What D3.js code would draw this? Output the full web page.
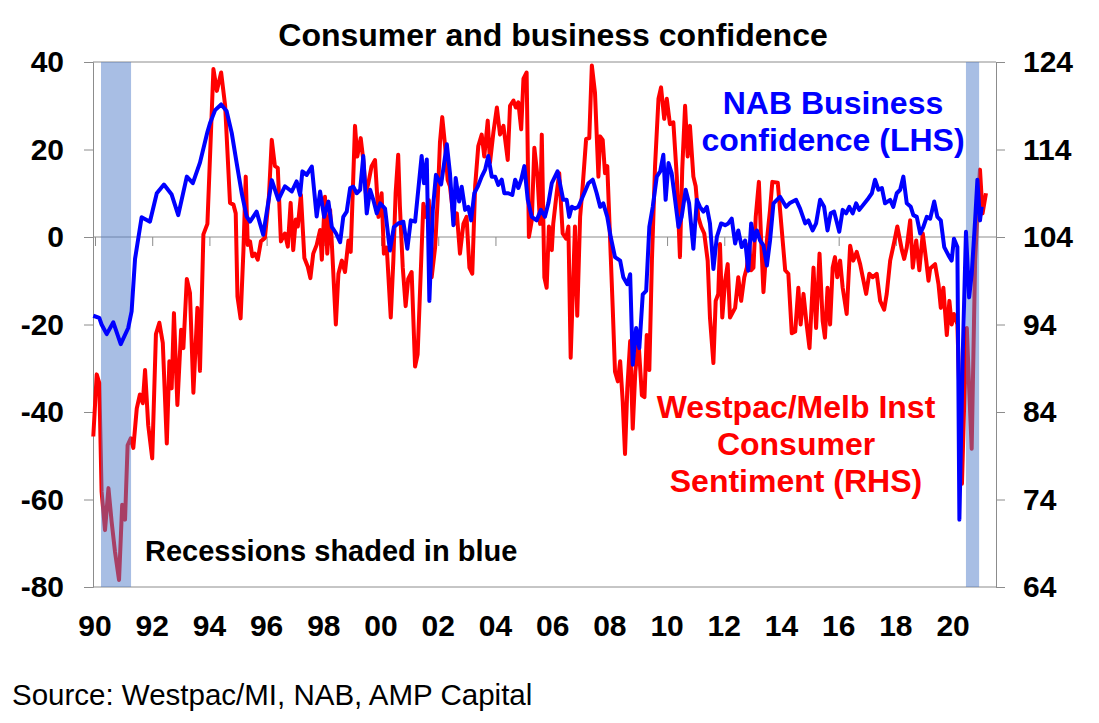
<!DOCTYPE html>
<html lang="en">
<head>
    <meta charset="UTF-8">
    <title>Consumer and business confidence</title>
    <script src="https://cdnjs.cloudflare.com/ajax/libs/d3/7.8.5/d3.min.js"></script>
    <style>
        body { margin: 0; background: #fff; }
        svg { display: block; font-family: "Liberation Sans", Arial, sans-serif; }
        .axis-label { font-size: 30px; font-weight: bold; fill: #000; }
        .note { font-weight: bold; }
    </style>
</head>
<body>
    <div id="chart"></div>

    <script>
        // NAB business confidence (LHS), [decimal year, net balance]
        const nabConfidence = [
            [1989.94,-18],[1990.15,-18.5],[1990.23,-20],[1990.41,-22.2],[1990.64,-19.5],[1990.90,-24.5],
            [1991.16,-20.8],[1991.28,-17],[1991.40,-5],[1991.63,4.5],[1991.92,3.5],[1992.16,10],[1992.41,12],
            [1992.68,9.7],[1992.91,5],[1993.21,13.8],[1993.42,12.3],[1993.67,17],[1993.93,24],[1994.02,26],
            [1994.20,29],[1994.41,30.3],[1994.60,28.8],[1994.78,23.8],[1994.95,17],[1995.13,10],[1995.30,4.7],
            [1995.42,3.5],[1995.65,5.8],[1995.88,0.5],[1996.18,13],[1996.41,8.5],[1996.64,11.6],[1996.88,10.4],
            [1997.05,12.7],[1997.17,9.6],[1997.25,15],[1997.40,14.2],[1997.58,16.1],[1997.75,4.7],[1997.87,10.4],
            [1998.01,4.6],[1998.16,8.1],[1998.28,2.3],[1998.43,0.8],[1998.57,-1.2],[1998.68,4.6],[1998.80,5.8],
            [1998.92,11.2],[1999.03,11.5],[1999.15,10],[1999.27,10.8],[1999.38,18.5],[1999.50,5.4],[1999.62,10.8],
            [1999.73,8.5],[1999.85,5.4],[1999.97,7.7],[2000.14,6.5],[2000.31,-3.1],[2000.45,2.3],[2000.60,3.1],
            [2000.78,3.5],[2000.92,-2.7],[2001.04,3.8],[2001.19,3.5],[2001.42,18.5],[2001.50,12.3],[2001.60,17.7],
            [2001.69,-14.6],[2001.81,6.2],[2001.92,14.2],[2002.10,12],[2002.30,21.2],[2002.41,14.6],[2002.53,2.7],
            [2002.61,13.5],[2002.73,8.1],[2002.82,11.5],[2002.94,6.2],[2003.05,6.9],[2003.15,3.8],[2003.26,10],
            [2003.38,11.5],[2003.52,13.8],[2003.64,15.4],[2003.75,18.5],[2003.87,13.8],[2003.99,13.8],[2004.10,11.9],
            [2004.22,13.1],[2004.31,10],[2004.45,10],[2004.59,9.6],[2004.69,13.1],[2004.80,11.2],[2004.90,13.1],
            [2005.01,16.2],[2005.13,8.5],[2005.27,4.6],[2005.44,3.8],[2005.59,6.2],[2005.73,4.6],[2005.85,7.7],
            [2005.97,12.3],[2006.17,15],[2006.37,8.5],[2006.49,8.5],[2006.58,4.6],[2006.67,6.9],[2006.78,6.5],
            [2006.90,6.9],[2007.13,10.4],[2007.25,12.3],[2007.40,13.1],[2007.54,10],[2007.66,6.9],[2007.77,7.7],
            [2007.91,4.6],[2008.03,0],[2008.18,-4.6],[2008.36,-5.4],[2008.47,-9.2],[2008.61,-10.8],[2008.71,-8.5],
            [2008.80,-29.2],[2008.92,-20.8],[2009.03,-25.4],[2009.15,-13.1],[2009.27,-12.3],[2009.38,2.3],
            [2009.50,6.9],[2009.64,13.8],[2009.76,15],[2009.87,18.8],[2009.95,8.5],[2010.05,16.9],[2010.16,14.6],
            [2010.28,8.5],[2010.40,2.3],[2010.51,4.6],[2010.65,10.8],[2010.77,7.7],[2010.92,-2.7],[2011.04,8.5],
            [2011.15,6.9],[2011.27,5.8],[2011.39,6.9],[2011.50,3.1],[2011.62,-7.3],[2011.74,0],[2011.89,3.1],
            [2012.03,2.7],[2012.14,3.1],[2012.26,4.2],[2012.38,-1.5],[2012.49,1.5],[2012.61,-2.3],[2012.73,-0.8],
            [2012.84,-7.7],[2012.94,3.1],[2013.05,-0.8],[2013.14,1.5],[2013.25,-0.8],[2013.37,-1.9],[2013.49,-6.5],
            [2013.60,-0.8],[2013.72,7.7],[2013.84,8.5],[2013.95,9.2],[2014.16,6.9],[2014.28,7.7],[2014.51,8.5],
            [2014.65,6.5],[2014.83,3.1],[2014.94,3.8],[2015.09,1.5],[2015.21,3.1],[2015.35,8.5],[2015.49,6.9],
            [2015.61,1.5],[2015.72,5.4],[2015.84,5.8],[2016.02,1.2],[2016.14,6.2],[2016.26,5.4],[2016.37,6.9],
            [2016.49,5.4],[2016.61,7.7],[2016.72,6.2],[2017.00,8.5],[2017.16,10],[2017.27,13.1],[2017.39,10.8],
            [2017.51,11.2],[2017.62,7.7],[2017.80,8.5],[2017.91,6.9],[2018.03,10],[2018.15,10.8],[2018.26,13.8],
            [2018.38,7.7],[2018.52,6.9],[2018.61,5],[2018.73,4.6],[2018.85,0.8],[2018.96,2.3],[2019.08,4.6],
            [2019.20,4.2],[2019.34,8.1],[2019.45,4.6],[2019.57,3.8],[2019.69,-2.3],[2019.84,-4.2],[2019.95,-5.4],
            [2020.03,-0.4],[2020.15,-2.3],[2020.22,-64.6],[2020.34,-26.2],[2020.45,1.2],[2020.56,-13.8],
            [2020.65,-8.5],[2020.77,3.8],[2020.85,13.1],[2020.94,3.8],[2021.00,6.9]
        ];

        // Westpac/Melbourne Institute consumer sentiment (RHS), [decimal year, index]
        const westpacSentiment = [
            [1989.94,81.2],[1990.06,88.3],[1990.15,87.3],[1990.23,74.9],[1990.35,70.5],[1990.47,75.3],
            [1990.58,71.5],[1990.70,68.0],[1990.84,64.8],[1990.95,73.4],[1991.05,71.7],[1991.14,80.2],
            [1991.25,81.0],[1991.34,79.9],[1991.46,84.4],[1991.57,86.0],[1991.67,85.0],[1991.75,88.8],
            [1991.86,82.5],[1992.00,78.7],[1992.13,92.9],[1992.25,94.2],[1992.37,91.9],[1992.51,80.4],
            [1992.60,89.8],[1992.68,86.7],[1992.76,95.3],[1992.88,84.8],[1993.01,93.4],[1993.09,91.3],
            [1993.21,99.2],[1993.32,97.6],[1993.44,86.2],[1993.58,95.9],[1993.67,88.7],[1993.79,104.3],
            [1993.93,105.5],[1994.14,123.2],[1994.26,120.7],[1994.41,122.8],[1994.55,119],[1994.72,107.9],
            [1994.84,107.7],[1994.92,106.7],[1994.98,97.2],[1995.09,94.7],[1995.19,102.5],[1995.27,110.9],
            [1995.34,103.1],[1995.42,103.5],[1995.50,101.8],[1995.59,102.1],[1995.69,101.4],[1995.80,103.5],
            [1995.94,103.9],[1996.08,108.6],[1996.18,115.1],[1996.29,112.1],[1996.39,111.9],[1996.50,103.5],
            [1996.64,104.4],[1996.74,102.9],[1996.84,107.9],[1996.93,102.5],[1997.02,106],[1997.09,105.2],
            [1997.20,108.8],[1997.32,101.6],[1997.44,100.6],[1997.53,99.3],[1997.63,102.1],[1997.75,103.1],
            [1997.87,104.8],[1997.93,101.4],[1998.04,108.6],[1998.12,102.1],[1998.22,107.1],[1998.31,101.3],
            [1998.42,94],[1998.51,99.8],[1998.63,101.3],[1998.74,100],[1998.86,103.6],[1998.94,102.3],
            [1999.03,110.9],[1999.09,116.7],[1999.17,113.2],[1999.29,115.3],[1999.38,112.8],[1999.47,109],
            [1999.56,110.2],[1999.67,112.1],[1999.79,112.8],[1999.91,106.3],[2000.02,109],[2000.10,102.1],
            [2000.20,102.8],[2000.34,94.8],[2000.43,101.3],[2000.51,109],[2000.60,113.4],[2000.66,107.5],
            [2000.76,100.5],[2000.86,96.1],[2000.95,99.2],[2001.07,100],[2001.19,89.2],[2001.28,90.6],
            [2001.36,97.5],[2001.48,107.8],[2001.57,106.3],[2001.67,108.2],[2001.77,99.4],[2001.89,102.8],
            [2001.98,108.2],[2002.06,114.8],[2002.14,117.7],[2002.24,114.4],[2002.33,110.5],[2002.41,109.8],
            [2002.56,105.5],[2002.65,106.7],[2002.76,102.1],[2002.88,105.5],[2002.99,106.3],[2003.09,100.5],
            [2003.19,99.8],[2003.29,109.8],[2003.40,114.4],[2003.52,115.7],[2003.61,113.2],[2003.73,117.3],
            [2003.81,112.5],[2003.93,116],[2004.05,118.8],[2004.16,115.7],[2004.28,116.7],[2004.43,112.8],
            [2004.51,119],[2004.63,119.6],[2004.71,118.8],[2004.80,119.4],[2004.90,116.3],[2004.98,122.1],
            [2005.09,122.8],[2005.17,104],[2005.27,105.9],[2005.36,114.2],[2005.47,110.9],[2005.56,105.5],
            [2005.62,115.7],[2005.71,99.4],[2005.79,98.2],[2005.87,105.2],[2005.97,102.5],[2006.02,105.5],
            [2006.14,109],[2006.23,111.3],[2006.35,104.4],[2006.47,103.8],[2006.55,105.2],[2006.63,90.2],
            [2006.78,105.2],[2006.86,95],[2006.96,106.3],[2007.05,109.8],[2007.17,115.2],[2007.28,115.3],
            [2007.37,123.6],[2007.48,120.5],[2007.60,110.9],[2007.66,115.5],[2007.75,115.1],[2007.83,111.3],
            [2007.91,112.1],[2008.01,103.6],[2008.10,95.9],[2008.18,88.6],[2008.28,87.5],[2008.36,89.8],
            [2008.45,85.2],[2008.53,79.2],[2008.61,86.7],[2008.71,92.1],[2008.80,82.1],[2008.89,88.6],
            [2009.00,92.1],[2009.12,85.9],[2009.21,85.7],[2009.29,92.8],[2009.38,88.8],[2009.47,101.3],
            [2009.58,112.1],[2009.70,119.8],[2009.79,121.1],[2009.90,117.5],[2009.99,119.8],[2010.10,116.9],
            [2010.22,117.1],[2010.34,110.9],[2010.45,101.7],[2010.53,111.7],[2010.63,119],[2010.72,113.2],
            [2010.80,116.7],[2010.92,110.9],[2011.00,109.8],[2011.09,106.3],[2011.19,105.2],[2011.30,104.4],
            [2011.42,101.3],[2011.50,94.8],[2011.62,89.6],[2011.70,96.7],[2011.79,97.5],[2011.85,103.2],
            [2011.93,94.8],[2012.03,99],[2012.12,100.9],[2012.20,94.8],[2012.38,95.9],[2012.49,99.4],
            [2012.59,96.7],[2012.70,99.4],[2012.79,100.5],[2012.87,103.2],[2012.94,100.2],[2013.02,100.5],
            [2013.10,106.3],[2013.21,110.3],[2013.29,103.6],[2013.37,97.7],[2013.49,103.6],[2013.60,107.1],
            [2013.68,110.3],[2013.87,110.2],[2013.95,107.1],[2014.13,100.2],[2014.24,99.8],[2014.36,93],
            [2014.48,93.2],[2014.59,98.2],[2014.67,94],[2014.77,97.5],[2014.88,94],[2014.98,91.3],
            [2015.12,100.5],[2015.21,93.6],[2015.33,102.1],[2015.44,94.4],[2015.52,92.5],[2015.61,98.2],
            [2015.70,94],[2015.79,100.5],[2015.87,101.7],[2015.95,99.4],[2016.05,101.3],[2016.14,98.2],
            [2016.28,95.2],[2016.40,103],[2016.51,101.3],[2016.63,102.3],[2016.75,100.9],[2016.96,97.5],
            [2017.07,99.8],[2017.19,99.4],[2017.33,99.8],[2017.45,96.7],[2017.59,95.7],[2017.68,97.5],
            [2017.80,101.3],[2017.94,103.4],[2018.05,105.2],[2018.21,102.5],[2018.29,101.5],[2018.38,102.8],
            [2018.50,105.9],[2018.59,100.5],[2018.71,103.6],[2018.82,100.2],[2018.94,104.4],[2019.06,101.3],
            [2019.14,99],[2019.20,100.4],[2019.37,100.9],[2019.49,98.6],[2019.57,95.9],[2019.66,98.2],
            [2019.78,92.8],[2019.87,96.7],[2019.95,94],[2020.03,95.2],[2020.15,94],[2020.31,75.8],
            [2020.38,84],[2020.48,93.6],[2020.57,86],[2020.65,79.8],[2020.77,101.3],[2020.86,107.1],
            [2020.94,111.7],[2021.03,106.7],[2021.15,109]
        ];

        // Recession bands, [start, end] in decimal years
        const recessions = [[1990.21, 1991.26], [2020.45, 2020.91]];

        // Axis ticks
        const leftTicks = [-80, -60, -40, -20, 0, 20, 40];
        const rightTicks = [64, 74, 84, 94, 104, 114, 124];
        const yearTicks = [1990, 1992, 1994, 1996, 1998, 2000, 2002, 2004, 2006, 2008, 2010, 2012, 2014, 2016, 2018, 2020];

        const width = 1099, height = 723;
        const plot = { left: 93, right: 996, top: 62, bottom: 587 };
        const axisColor = "#8c8c8c";

        const svg = d3.select("#chart").append("svg")
            .attr("width", width)
            .attr("height", height);

        const x = d3.scaleLinear().domain([1989.93, 2021.5]).range([plot.left, plot.right]);
        const yL = d3.scaleLinear().domain([-80, 40]).range([plot.bottom, plot.top]);
        const yR = d3.scaleLinear().domain([64, 124]).range([plot.bottom, plot.top]);

        // Title
        svg.append("text")
            .attr("x", 553)
            .attr("y", 46)
            .attr("text-anchor", "middle")
            .style("font-size", "32px")
            .style("font-weight", "bold")
            .text("Consumer and business confidence");

        // Plot frame: top and bottom borders, both vertical axes
        svg.append("line")
            .attr("x1", plot.left).attr("x2", plot.right)
            .attr("y1", plot.top).attr("y2", plot.top)
            .attr("stroke", axisColor);
        svg.append("line")
            .attr("x1", plot.left).attr("x2", plot.right)
            .attr("y1", plot.bottom).attr("y2", plot.bottom)
            .attr("stroke", axisColor);

        // Left axis (NAB) - plain hyphen for negatives, like the original
        const leftAxis = svg.append("g")
            .attr("transform", `translate(${plot.left},0)`)
            .call(d3.axisLeft(yL).tickValues(leftTicks).tickSize(9).tickPadding(20).tickFormat(d => String(d)));

        // Right axis (Westpac)
        const rightAxis = svg.append("g")
            .attr("transform", `translate(${plot.right},0)`)
            .call(d3.axisRight(yR).tickValues(rightTicks).tickSize(9).tickPadding(18).tickFormat(d => String(d)));

        [leftAxis, rightAxis].forEach(g => {
            g.select(".domain").attr("stroke", axisColor);
            g.selectAll(".tick line").attr("stroke", axisColor);
            g.selectAll(".tick text")
                .attr("class", "axis-label")
                .attr("font-family", null)
                .attr("font-size", null);
        });

        // Horizontal axis crosses at zero, labels sit below the plot
        const xAxis = svg.append("g")
            .attr("transform", `translate(0,${yL(0)})`)
            .call(d3.axisBottom(x).tickValues(yearTicks).tickSize(9).tickFormat(() => ""));
        xAxis.select(".domain").attr("stroke", axisColor).attr("d", `M${plot.left},0H${plot.right}`);
        xAxis.selectAll(".tick line").attr("stroke", axisColor);

        svg.append("g")
            .selectAll("text")
            .data(yearTicks)
            .join("text")
            .attr("class", "axis-label")
            .attr("x", d => x(d))
            .attr("y", 636)
            .attr("text-anchor", "middle")
            .text(d => String(d % 100).padStart(2, "0"));

        // Westpac line
        const lineR = d3.line().x(d => x(d[0])).y(d => yR(d[1]));
        svg.append("path")
            .datum(westpacSentiment)
            .attr("fill", "none")
            .attr("stroke", "#ff0000")
            .attr("stroke-width", 4)
            .attr("stroke-linejoin", "round")
            .attr("d", lineR);

        // Recession shading sits over the red line
        svg.append("g")
            .selectAll("rect")
            .data(recessions)
            .join("rect")
            .attr("x", d => x(d[0]))
            .attr("width", d => x(d[1]) - x(d[0]))
            .attr("y", yL(40))
            .attr("height", yL(-80) - yL(40))
            .attr("fill", "rgb(81,125,201)")
            .attr("fill-opacity", 0.5);

        // NAB line
        const lineL = d3.line().x(d => x(d[0])).y(d => yL(d[1]));
        svg.append("path")
            .datum(nabConfidence)
            .attr("fill", "none")
            .attr("stroke", "#0000ff")
            .attr("stroke-width", 4)
            .attr("stroke-linejoin", "round")
            .attr("d", lineL);

        // Series notes
        function note(lines, cx, y0, color, size) {
            svg.append("text")
                .attr("class", "note")
                .attr("text-anchor", "middle")
                .attr("fill", color)
                .style("font-size", size + "px")
                .selectAll("tspan")
                .data(lines)
                .join("tspan")
                .attr("x", cx)
                .attr("y", (d, i) => y0 + i * 37)
                .text(d => d);
        }
        note(["NAB Business", "confidence (LHS)"], 833, 114, "#0000ff", 32);
        note(["Westpac/Melb Inst", "Consumer", "Sentiment (RHS)"], 796, 418, "#ff0000", 32);

        svg.append("text")
            .attr("class", "note")
            .attr("x", 145)
            .attr("y", 561)
            .style("font-size", "29px")
            .text("Recessions shaded in blue");

        // Source
        svg.append("text")
            .attr("x", 12)
            .attr("y", 705)
            .style("font-size", "29.5px")
            .text("Source: Westpac/MI, NAB, AMP Capital");
    </script>
</body>
</html>
